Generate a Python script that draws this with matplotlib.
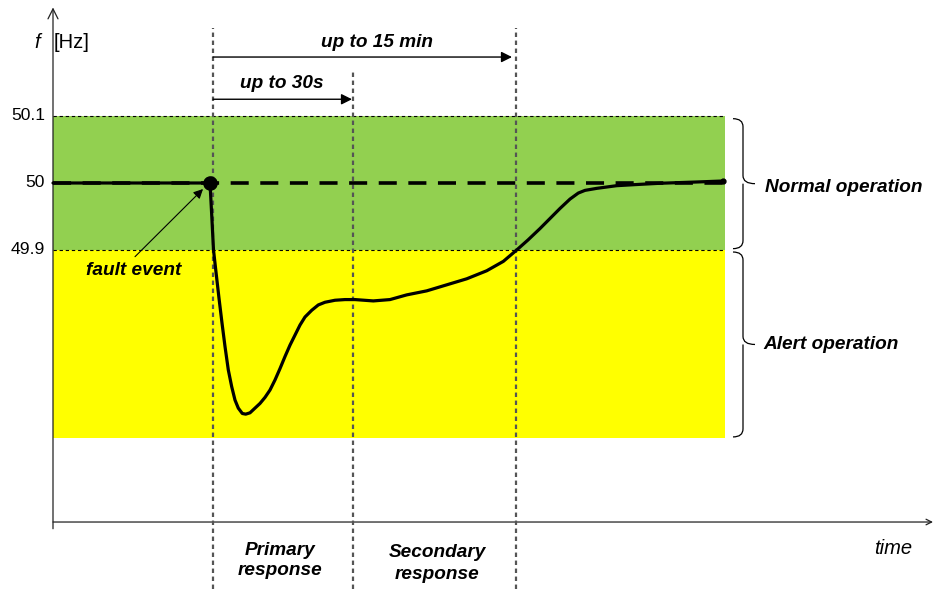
import matplotlib
matplotlib.use("Agg")
import matplotlib.pyplot as plt
from matplotlib.path import Path
from matplotlib.patches import PathPatch

plt.rcParams['font.family'] = ['Liberation Sans', 'DejaVu Sans']

# frequency response after the fault (time in arbitrary units, f in Hz)
time = [0.0, 1.57, 1.588, 1.605, 1.63, 1.66, 1.69, 1.72, 1.753, 1.787, 1.82,
        1.853, 1.893, 1.927, 1.97, 2.02, 2.07, 2.12, 2.17, 2.22, 2.27,
        2.32, 2.37, 2.42, 2.47, 2.52, 2.587, 2.653, 2.72, 2.82, 2.92,
        3.02, 3.203, 3.37, 3.537, 3.737, 3.937, 4.137, 4.337, 4.503, 4.637,
        4.75, 4.87, 4.97, 5.07, 5.17, 5.253, 5.32, 5.437, 5.637, 5.87,
        6.07, 6.437, 6.703]
freq = [50.0, 50.0, 49.950, 49.900, 49.867, 49.828, 49.791, 49.756, 49.721, 49.696, 49.676,
        49.664, 49.656, 49.655, 49.657, 49.664, 49.671, 49.680, 49.691, 49.706, 49.723,
        49.741, 49.758, 49.773, 49.788, 49.800, 49.810, 49.818, 49.822, 49.825, 49.826,
        49.826, 49.824, 49.826, 49.833, 49.839, 49.848, 49.857, 49.869, 49.883, 49.900,
        49.915, 49.932, 49.947, 49.962, 49.976, 49.985, 49.989, 49.992, 49.996, 49.998,
        49.9996, 50.0015, 50.003]

f_nominal = 50.0
normal_band = [49.9, 50.1]
alert_band = [49.62, 49.9]
band_end = 6.72
t_fault = 1.57
event_lines = [1.60, 3.00, 4.63]
event_tops = [50.231, 50.169, 50.231]
ytick_vals = [50.1, 50.0, 49.9]
ytick_text = ["50.1", "50", "49.9"]

fig = plt.figure(figsize=(9.34, 5.89), dpi=100)
ax = fig.add_axes([0, 0, 1, 1])
ax.set_xlim(-0.53, 8.81)
ax.set_ylim(49.39403, 50.27313)
ax.axis('off')

# bands
ax.fill_between([0, band_end], normal_band[0], normal_band[1], color='#92D050', lw=0, zorder=1)
ax.fill_between([0, band_end], alert_band[0], alert_band[1], color='#FFFF00', lw=0, zorder=1)
for lvl in normal_band:
    ax.plot([0, band_end], [lvl, lvl], color='black', lw=0.8, dashes=(3, 2.5), zorder=2)

# axes with arrows
f_axis = 49.494
ax.annotate('', xy=(0, 50.262), xytext=(0, f_axis - 0.01),
            arrowprops=dict(arrowstyle='->', lw=0.9, color='#222222', mutation_scale=18,
                            shrinkA=0, shrinkB=0), zorder=3)
ax.annotate('', xy=(8.80, f_axis), xytext=(0, f_axis),
            arrowprops=dict(arrowstyle='->', lw=0.9, color='#222222', mutation_scale=10,
                            shrinkA=0, shrinkB=0), zorder=3)

# vertical event lines
for t, top in zip(event_lines, event_tops):
    ax.plot([t, t], [49.39403, top], color='#555555', lw=1.6, dashes=(2, 1.6), zorder=3)

# curve and reference
ax.plot(time, freq, color='black', lw=2.3, solid_capstyle='round', solid_joinstyle='round', zorder=5)
ax.plot([0, time[-1]], [f_nominal, f_nominal], color='black', lw=2.6, dashes=(5, 3.2), zorder=6)
ax.plot([t_fault], [f_nominal], 'o', color='black', ms=9.5, zorder=7)
ax.plot([time[-1]], [freq[-1]], 'o', color='black', ms=3.5, zorder=7)

# y tick labels
for v, s in zip(ytick_vals, ytick_text):
    ax.text(-0.08, v, s, ha='right', va='center', fontsize=12.6)
ax.text(-0.16, 50.2104, 'f', style='italic', ha='center', va='center', fontsize=14.5)
ax.text(0.01, 50.2104, '[Hz]', ha='left', va='center', fontsize=14.5)
ax.text(8.40, 49.4552, 'time', style='italic', ha='center', va='center', fontsize=14.5)

bi = dict(style='italic', fontweight='bold', fontsize=13.7)

# duration arrows
arrow_kw = dict(arrowstyle='-|>', lw=1, color='black', mutation_scale=16, shrinkA=0, shrinkB=0)
ax.annotate('', xy=(4.59, 50.188), xytext=(event_lines[0], 50.188), arrowprops=arrow_kw, zorder=4)
ax.annotate('', xy=(2.99, 50.125), xytext=(event_lines[0], 50.125), arrowprops=arrow_kw, zorder=4)
ax.text(3.24, 50.209, 'up to 15 min', ha='center', va='center', **bi)
ax.text(2.29, 50.149, 'up to 30s', ha='center', va='center', **bi)

# fault event
ax.annotate('', xy=(1.50, 49.991), xytext=(0.82, 49.890),
            arrowprops=dict(arrowstyle='-|>', lw=0.8, color='black', mutation_scale=14,
                            shrinkA=0, shrinkB=0), zorder=8)
ax.text(0.81, 49.870, 'fault event', ha='center', va='center', **bi)

# response labels
ax.text(2.27, 49.4366, 'Primary\nresponse', ha='center', va='center', linespacing=1.3, **bi)
ax.text(3.84, 49.432, 'Secondary\nresponse', ha='center', va='center', linespacing=1.35, **bi)


def brace(f_top, f_bot, t_left=6.80, t_spine=6.90, t_tip=7.02, r=0.012):
    f_mid = (f_top + f_bot) / 2
    verts = [(t_left, f_top), (t_spine, f_top), (t_spine, f_top - r),
             (t_spine, f_mid + r), (t_spine, f_mid), (t_tip, f_mid),
             (t_spine, f_mid), (t_spine, f_mid - r),
             (t_spine, f_bot + r), (t_spine, f_bot), (t_left, f_bot)]
    codes = [Path.MOVETO, Path.CURVE3, Path.CURVE3,
             Path.LINETO, Path.CURVE3, Path.CURVE3,
             Path.MOVETO, Path.CURVE3,
             Path.LINETO, Path.CURVE3, Path.CURVE3]
    ax.add_patch(PathPatch(Path(verts, codes), fill=False, lw=0.9, color='black'))
    return f_mid


mid_n = brace(50.096, 49.902)
mid_a = brace(49.897, 49.621)
ax.text(7.12, mid_n - 0.006, 'Normal operation', ha='left', va='center', **bi)
ax.text(7.10, mid_a, 'Alert operation', ha='left', va='center', **bi)

fig.savefig("out.png", dpi=100)
